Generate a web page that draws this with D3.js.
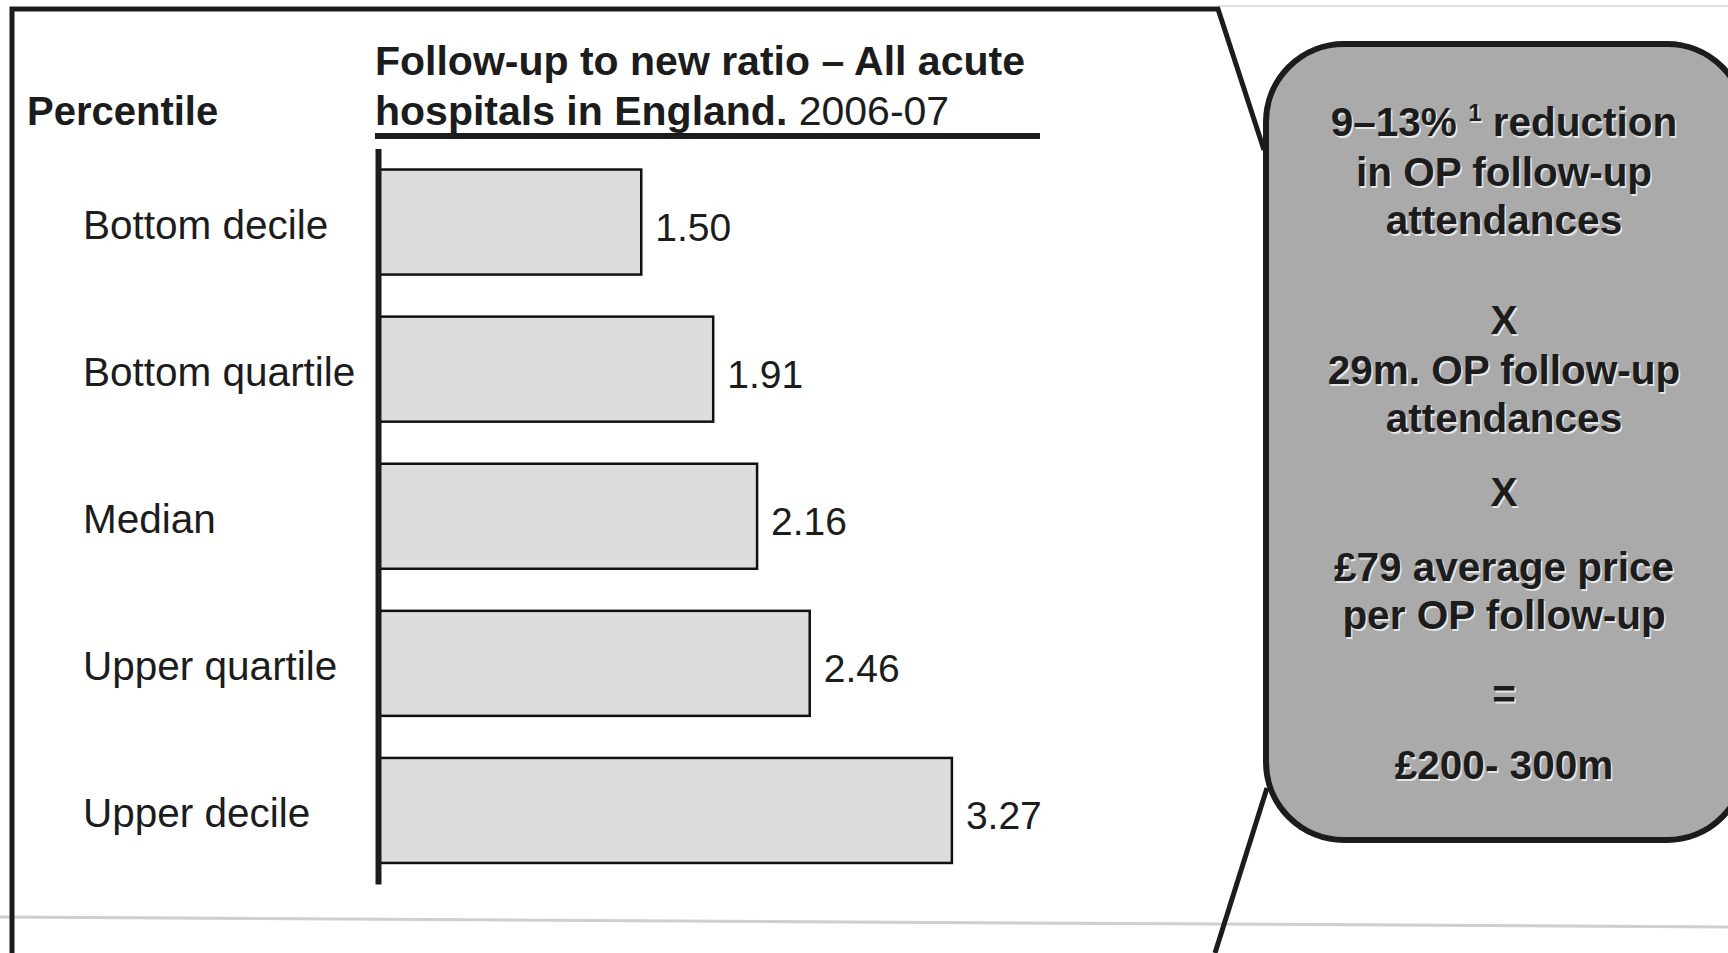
<!DOCTYPE html>
<html>
<head>
<meta charset="utf-8">
<script src="https://cdn.jsdelivr.net/npm/d3@7"></script>
<style>
  html, body { margin: 0; padding: 0; background: #ffffff; }
  svg { display: block; }
  text { font-family: "Liberation Sans", Arial, Helvetica, sans-serif; }
</style>
</head>
<body>
<svg id="chart" width="1728" height="953"></svg>
<script>
// Follow-up to new outpatient ratio by percentile, acute hospitals in England 2006-07
const categories = ["Bottom decile", "Bottom quartile", "Median", "Upper quartile", "Upper decile"];
const ratios = [1.50, 1.91, 2.16, 2.46, 3.27];
const ratioLabels = ["1.50", "1.91", "2.16", "2.46", "3.27"];

const rowHeader = "Percentile";
const titleLine1 = "Follow-up to new ratio \u2013 All acute";
const titleLine2Bold = "hospitals in England.";
const titleLine2Plain = " 2006-07";

// Savings calculation shown in the callout box (second item flags a superscript)
const calloutLines = [
  [["9\u201313%\u00a0", 0], ["1", 1], ["\u00a0reduction", 0]],
  [["in OP follow-up", 0]],
  [["attendances", 0]],
  [["X", 0]],
  [["29m. OP follow-up", 0]],
  [["attendances", 0]],
  [["X", 0]],
  [["\u00a379 average price", 0]],
  [["per OP follow-up", 0]],
  [["=", 0]],
  [["\u00a3200- 300m", 0]]
];

const svg = d3.select("#chart");
const ink = "#1c1c1c";

// ---- outer frame and callout connector ----
svg.append("line")
  .attr("x1", 0).attr("y1", 917).attr("x2", 1728).attr("y2", 927)
  .attr("stroke", "#cfcfcf").attr("stroke-width", 3);
svg.append("line")
  .attr("x1", 1218).attr("y1", 6).attr("x2", 1728).attr("y2", 6)
  .attr("stroke", "#e0e0e0").attr("stroke-width", 2);

svg.append("path")
  .attr("d", "M12,953 L12,9 L1218,9 L1264,150")
  .attr("fill", "none").attr("stroke", ink).attr("stroke-width", 5)
  .attr("stroke-linejoin", "miter");
svg.append("path")
  .attr("d", "M1267,788 L1215,953")
  .attr("fill", "none").attr("stroke", ink).attr("stroke-width", 5);

// ---- callout box ----
svg.append("rect")
  .attr("x", 1266).attr("y", 44).attr("width", 479).attr("height", 796)
  .attr("rx", 78).attr("ry", 78)
  .attr("fill", "#aaaaaa").attr("stroke", ink).attr("stroke-width", 6);

const baselines = [136, 186, 234, 334, 384, 432, 506, 581, 629, 708, 779];
const cx = 1504;

function drawCallout(fill, dx, dy) {
  const g = svg.append("g").attr("transform", `translate(${dx},${dy})`);
  calloutLines.forEach((parts, i) => {
    const t = g.append("text")
      .attr("x", cx).attr("y", baselines[i])
      .attr("text-anchor", "middle")
      .attr("font-size", 40.5).attr("font-weight", "bold")
      .attr("fill", fill);
    let raised = false;
    parts.forEach(([s, sup]) => {
      const ts = t.append("tspan").text(s);
      if (sup) {
        ts.attr("font-size", 24).attr("dy", -15);
        raised = true;
      } else if (raised) {
        ts.attr("dy", 15);
        raised = false;
      }
    });
  });
}
drawCallout("#e6e6e6", 1.5, 1.5);
drawCallout(ink, 0, 0);

// ---- headings ----
svg.append("text")
  .attr("x", 27).attr("y", 125)
  .attr("font-size", 40).attr("font-weight", "bold").attr("fill", ink)
  .text(rowHeader);

svg.append("text")
  .attr("x", 375).attr("y", 75)
  .attr("font-size", 41).attr("font-weight", "bold").attr("fill", ink)
  .text(titleLine1);
const t2 = svg.append("text")
  .attr("x", 375).attr("y", 125)
  .attr("font-size", 41).attr("fill", ink);
t2.append("tspan").attr("font-weight", "bold").text(titleLine2Bold);
t2.append("tspan").attr("font-weight", "normal").text(titleLine2Plain);

svg.append("line")
  .attr("x1", 375).attr("x2", 1040).attr("y1", 136).attr("y2", 136)
  .attr("stroke", ink).attr("stroke-width", 6);

// ---- bar chart ----
const x0 = 378;
const x = d3.scaleLinear().domain([0, 4]).range([x0, x0 + 702]);
const y = d3.scaleBand()
  .domain(categories)
  .range([148.5, 884])
  .paddingInner(0.286)
  .paddingOuter(0.143);

svg.append("g")
  .selectAll("rect")
  .data(ratios)
  .join("rect")
  .attr("x", x(0))
  .attr("y", (d, i) => y(categories[i]))
  .attr("width", d => x(d) - x(0))
  .attr("height", y.bandwidth())
  .attr("fill", "#dddddd")
  .attr("stroke", "#111")
  .attr("stroke-width", 2.5);

// category axis drawn as the chart's spine
const axis = d3.axisLeft(y).tickSize(0).tickFormat("");
const axisG = svg.append("g").attr("transform", `translate(${x0},0)`).call(axis);
axisG.select(".domain").attr("stroke", ink).attr("stroke-width", 6);

svg.append("g")
  .selectAll("text")
  .data(categories)
  .join("text")
  .attr("x", 83)
  .attr("y", d => y(d) + y.bandwidth() / 2 + 17)
  .attr("font-size", 40.5).attr("fill", ink)
  .text(d => d);

svg.append("g")
  .selectAll("text")
  .data(ratios)
  .join("text")
  .attr("x", d => x(d) + 14)
  .attr("y", (d, i) => y(categories[i]) + y.bandwidth() / 2 + 18.5)
  .attr("font-size", 39).attr("fill", ink)
  .text((d, i) => ratioLabels[i]);
</script>
</body>
</html>
